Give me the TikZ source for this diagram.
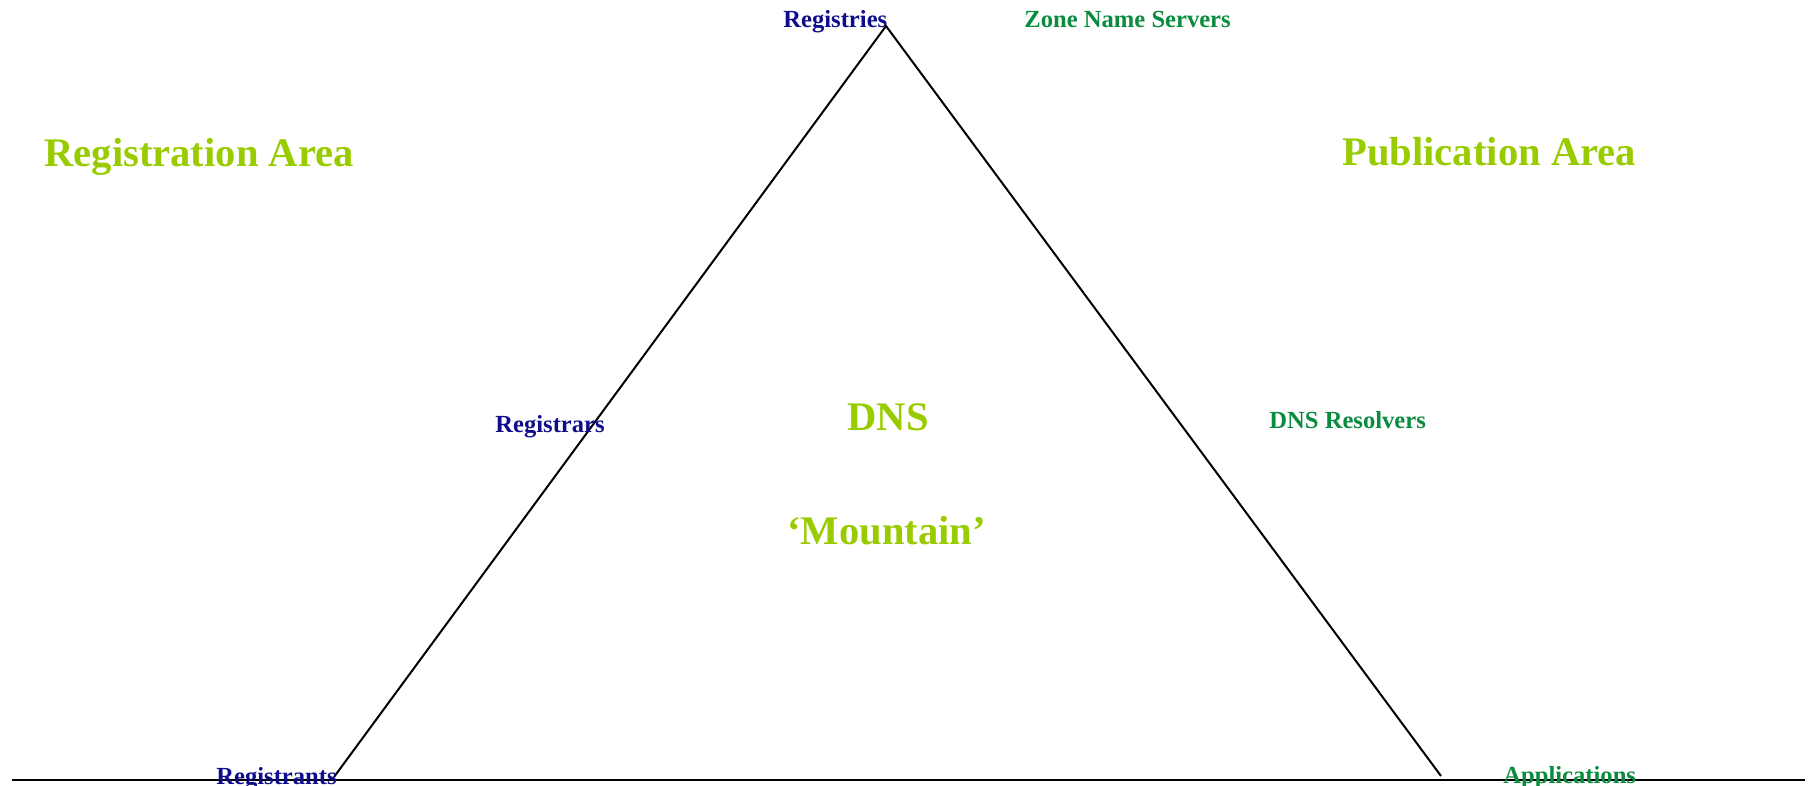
\documentclass[tikz,border=0pt]{standalone}
\usepackage{fontspec}
\setmainfont{Liberation Serif}
\definecolor{actorblue}{RGB}{14,14,140}
\definecolor{servergreen}{RGB}{10,140,62}
\definecolor{areagreen}{RGB}{153,204,0}
\begin{document}
\begin{tikzpicture}[x=0.5pt,y=-0.5pt,
  lbl/.style={inner sep=0pt,anchor=base west,font=\bfseries\fontsize{12.3}{14}\selectfont},
  actor/.style={lbl,text=actorblue},
  server/.style={lbl,text=servergreen},
  area/.style={inner sep=0pt,anchor=base west,font=\bfseries\fontsize{20.3}{24}\selectfont,text=areagreen},
  edge/.style={line width=1pt,black}]
\useasboundingbox (0,0) rectangle (1813,786);
% mountain outline and ground line
\coordinate (peak) at (886,26);
\coordinate (footL) at (334,777);
\coordinate (footR) at (1441,776);
\coordinate (groundL) at (12,780);
\coordinate (groundR) at (1805,780);
\draw[edge] (footL) -- (peak) -- (footR);
\draw[edge] (groundL) -- (groundR);
% labels
\node[actor] (registries) at (783,28) {Registries};
\node[server] (zns) at (1024,28) {Zone Name Servers};
\node[area] (regarea) at (44,167) {Registration Area};
\node[area] (pubarea) at (1342,166) {Publication Area};
\node[actor] (registrars) at (495,432) {Registrars};
\node[area] (dns) at (847,430) {DNS};
\node[area] (mountain) at (787,544) {‘Mountain’};
\node[server] (resolvers) at (1269,428) {DNS Resolvers};
\node[actor] (registrants) at (216,784) {Registrants};
\node[server] (apps) at (1503,783) {Applications};
\end{tikzpicture}
\end{document}
